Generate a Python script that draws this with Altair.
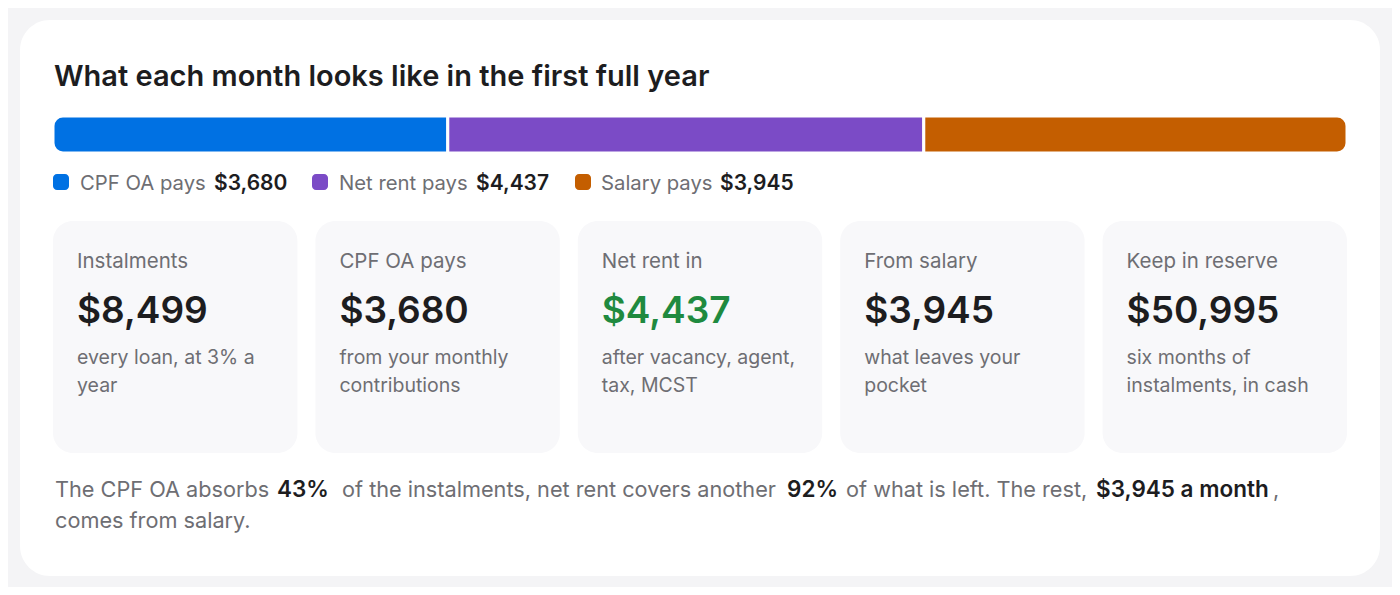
import altair as alt
import pandas as pd

# ---- data
seg_names = ["CPF OA pays", "Net rent pays", "Salary pays"]
seg_amounts = [3680, 4437, 3945]
seg_colors = ["#0071e3", "#7b4bc6", "#c45e00"]

card_labels = ["Instalments", "CPF OA pays", "Net rent in", "From salary", "Keep in reserve"]
card_values = [8499, 3680, 4437, 3945, 50995]
card_notes = [
    ["every loan, at 3% a", "year"],
    ["from your monthly", "contributions"],
    ["after vacancy, agent,", "tax, MCST"],
    ["what leaves your", "pocket"],
    ["six months of", "instalments, in cash"],
]
card_value_colors = ["#1d1d1f", "#1d1d1f", "#1f8a3f", "#1d1d1f", "#1d1d1f"]

title_text = "What each month looks like in the first full year"
oa_share = 43
rent_share = 92
salary_monthly = 3945

FONT = "Inter"
DARK = "#1d1d1f"
GREY = "#6e6e73"

# ---- layout (pixels inside the white card)
W, H = 1360, 556
LEFT, RIGHT = 33, 1327
BAR_Y, BAR_Y2 = 96, 133

fmt = lambda v: "${:,.0f}".format(v)

seg = pd.DataFrame({"name": seg_names, "amount": seg_amounts, "order": range(3)})

x_bar = alt.Scale(domain=[0, sum(seg_amounts)], range=[LEFT, RIGHT])
color_scale = alt.Scale(domain=seg_names, range=seg_colors)

base_bar = (
    alt.Chart(seg)
    .transform_window(end="sum(amount)", sort=[alt.SortField("order")], frame=[None, 0])
    .transform_calculate(start="datum.end - datum.amount")
)


def bar_piece(i, **corners):
    return (
        base_bar.transform_filter(alt.datum.order == i)
        .mark_rect(stroke="white", strokeWidth=3, **corners)
        .encode(
            x=alt.X("start:Q", scale=x_bar, axis=None),
            x2="end:Q",
            y=alt.value(BAR_Y),
            y2=alt.value(BAR_Y2),
            color=alt.Color("name:N", scale=color_scale, legend=None),
        )
    )


bars = (
    bar_piece(0, cornerRadiusTopLeft=10, cornerRadiusBottomLeft=10)
    + bar_piece(1)
    + bar_piece(2, cornerRadiusTopRight=10, cornerRadiusBottomRight=10)
)

# ---- legend under the bar
leg = pd.DataFrame({
    "name": seg_names,
    "val": [fmt(v) for v in seg_amounts],
    "sq": [33, 292, 555],
    "lx": [60, 319, 581],
    "vx": [194, 456, 700],
})
px = alt.Scale(domain=[0, W], range=[0, W])
py = alt.Scale(domain=[0, H], range=[0, H])

leg_sq = alt.Chart(leg).mark_rect(cornerRadius=4).encode(
    x=alt.X("sq:Q", scale=px, axis=None),
    x2=alt.X2("sq2:Q"),
    y=alt.value(154),
    y2=alt.value(170),
    color=alt.Color("name:N", scale=color_scale, legend=None),
).transform_calculate(sq2="datum.sq + 16")
leg_lbl = alt.Chart(leg).mark_text(
    font=FONT, fontSize=20.3, color=GREY, align="left", baseline="alphabetic"
).encode(x=alt.X("lx:Q", scale=px, axis=None), y=alt.value(170), text="name:N")
leg_val = alt.Chart(leg).mark_text(
    font=FONT, fontSize=21, fontWeight=600, color=DARK, align="left", baseline="alphabetic"
).encode(x=alt.X("vx:Q", scale=px, axis=None), y=alt.value(170), text="val:N")

# ---- cards
CARD_W, GAP = 244.4, 18
cards = pd.DataFrame({
    "label": card_labels,
    "value": [fmt(v) for v in card_values],
    "note": card_notes,
    "vcolor": card_value_colors,
})
cards["x0"] = [LEFT + i * (CARD_W + GAP) for i in range(5)]
cards["x1"] = cards["x0"] + CARD_W
cards["tx"] = cards["x0"] + 24

card_bg = alt.Chart(cards).mark_rect(cornerRadius=20, color="#f8f8fa").encode(
    x=alt.X("x0:Q", scale=px, axis=None), x2="x1:Q",
    y=alt.value(201), y2=alt.value(433),
)
card_lbl = alt.Chart(cards).mark_text(
    font=FONT, fontSize=20.5, color=GREY, align="left", baseline="alphabetic"
).encode(x=alt.X("tx:Q", scale=px, axis=None), y=alt.value(248), text="label:N")
card_val = alt.Chart(cards).mark_text(
    font=FONT, fontSize=37, fontWeight=600, align="left", baseline="alphabetic"
).encode(
    x=alt.X("tx:Q", scale=px, axis=None), y=alt.value(303), text="value:N",
    color=alt.Color("vcolor:N", scale=None),
)
card_note = alt.Chart(cards).mark_text(
    font=FONT, fontSize=19.5, color=GREY, align="left", baseline="alphabetic", lineHeight=28
).encode(x=alt.X("tx:Q", scale=px, axis=None), y=alt.value(344), text="note")

# ---- footnote with bold runs (each run starts where it does in the reference)
foot = pd.DataFrame({
    "t": [
        "The CPF OA absorbs", f"{oa_share}%", "of the instalments, net rent covers another",
        f"{rent_share}%", "of what is left. The rest,", f"{fmt(salary_monthly)} a month", ",",
        "comes from salary.",
    ],
    "bold": [0, 1, 0, 1, 0, 1, 0, 0],
    "fx": [35, 257, 322, 767, 826, 1076, 1253, 35],
    "fy": [477, 477, 477, 477, 477, 477, 477, 508],
})


def foot_run(is_bold):
    return (
        alt.Chart(foot)
        .transform_filter(alt.datum.bold == is_bold)
        .mark_text(
            font=FONT, fontSize=22.5 if is_bold else 21.7, align="left", baseline="alphabetic",
            fontWeight=600 if is_bold else 400, color=DARK if is_bold else GREY,
        )
        .encode(
            x=alt.X("fx:Q", scale=px, axis=None),
            y=alt.Y("fy:Q", scale=py, axis=None),
            text="t:N",
        )
    )


title = alt.Chart(pd.DataFrame({"t": [title_text]})).mark_text(
    font=FONT, fontSize=29, fontWeight=600, color=DARK, align="left", baseline="alphabetic"
).encode(x=alt.value(34), y=alt.value(66), text="t:N")

chart = (
    alt.layer(title, bars, leg_sq, leg_lbl, leg_val, card_bg, card_lbl, card_val, card_note,
              foot_run(0), foot_run(1))
    .resolve_scale(x="independent", y="independent", color="independent")
    .properties(
        width=W, height=H,
        autosize=alt.AutoSizeParams(type="none"),
        padding={"left": 12, "top": 12, "right": 12, "bottom": 11},
        background="#f4f4f6",
    )
    .configure_view(fill="white", stroke=None, cornerRadius=30)
)

chart.save("out.html", embed_options={"renderer": "svg", "actions": False})
